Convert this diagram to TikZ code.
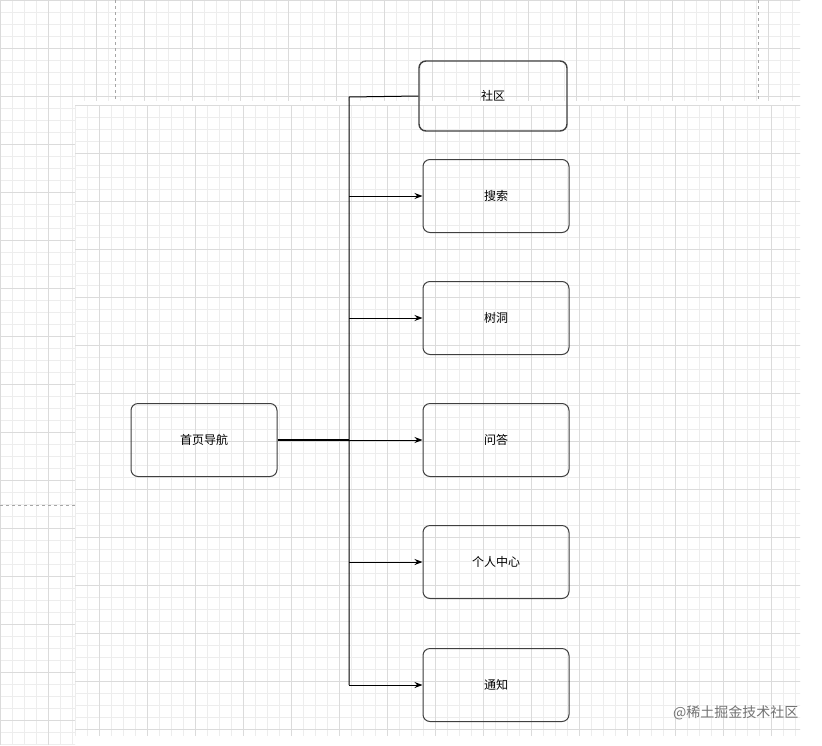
\documentclass[tikz,border=0pt]{standalone}
\usepackage{fontspec}
\setmainfont{Noto Sans CJK SC}
\usetikzlibrary{arrows.meta}
\begin{document}
\begin{tikzpicture}[x=1pt,y=-1pt,
  box/.style={draw=black!75,line width=1pt,rounded corners=7pt,minimum width=146pt,minimum height=73pt,font=\fontsize{12}{14}\selectfont,inner sep=0pt},
  conn/.style={line width=1pt,black},
  arr/.style={conn,-{Stealth[length=8pt,width=6pt]}},
  gmin/.style={black!7,line width=0.5pt},
  gmaj/.style={black!14,line width=0.6pt}]
\useasboundingbox (0,0) rectangle (822,745);
\fill[white] (0,0) rectangle (822,745);
\newcommand\mygrid[4]{%
  \begin{scope}
  \clip (#1,#2) rectangle (#3,#4);
  \foreach \i in {0,12,...,828}{\draw[gmin] (\i,0) -- (\i,745); \draw[gmin] (0,\i) -- (822,\i);}
  \foreach \i in {0,48,...,816}{\draw[gmaj] (\i,0) -- (\i,745); \draw[gmaj] (0,\i) -- (822,\i);}
  \end{scope}}
\mygrid{0}{0}{800}{100}
\mygrid{0}{100}{75}{745}
\begin{scope}[shift={(3,9)}]\mygrid{72}{96}{797}{726}\end{scope}
\draw[black!35,dashed] (115,0) -- (115,100);
\draw[black!35,dashed] (758,0) -- (758,100);
\draw[black!35,dashed] (0,505) -- (75,505);
\node[box,line width=1.4pt,minimum width=148pt,minimum height=70pt] (sq) at (493,96) {社区};
\node[box] (ss) at (496,196) {搜索};
\node[box] (sd) at (496,318) {树洞};
\node[box] (wd) at (496,440) {问答};
\node[box] (gr) at (496,562) {个人中心};
\node[box] (tz) at (496,685) {通知};
\node[box] (home) at (204,440) {首页导航};
\coordinate (t0) at (349,97);
\coordinate (tb) at (349,685);
\draw[conn] (sq.west) -- (t0) -- (tb);
\draw[conn,line width=1.4pt] (home.east) -- (349,440);
\foreach \n in {ss,sd,wd,gr,tz}{
  \draw[arr] (349,0 |- \n.west) -- (\n.west);
}
\node[text=black!55,font=\fontsize{14}{16}\selectfont,anchor=east] (wm) at (802,713) {@稀土掘金技术社区};
\end{tikzpicture}
\end{document}
